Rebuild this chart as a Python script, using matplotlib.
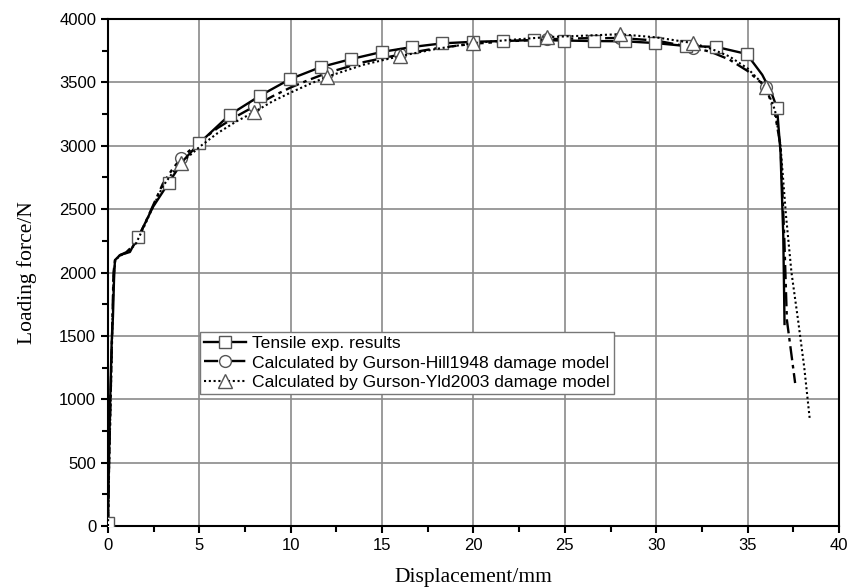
import numpy as np
import matplotlib
matplotlib.use("Agg")
import matplotlib.pyplot as plt
from matplotlib.ticker import MultipleLocator

# Tensile test (experiment)
exp_disp = [0, 0.05, 0.12, 0.2, 0.27, 0.33, 0.38, 0.66, 1.2, 1.48, 1.66, 2.46, 3.33, 4.1,
            4.99, 6.65, 8.32, 9.98, 11.65, 13.31, 14.98, 16.64, 18.3, 19.97, 21.63, 23.3,
            24.96, 26.62, 28.29, 29.95, 31.62, 33.28, 34.95, 35.8, 36.3, 36.61, 36.8,
            36.95, 37.0, 37.02]
exp_force = [20, 500, 1000, 1450, 1650, 1950, 2098, 2138, 2162, 2240, 2280, 2517, 2710, 2880,
             3020, 3243, 3395, 3527, 3621, 3684, 3740, 3779, 3808, 3820, 3826, 3834,
             3830, 3826, 3824, 3810, 3787, 3780, 3724, 3560, 3420, 3298, 2950,
             2300, 1800, 1594]
exp_marks = [0, 1.66, 3.33, 4.99, 6.65, 8.32, 9.98, 11.65, 13.31, 14.98, 16.64, 18.3,
             19.97, 21.63, 23.3, 24.96, 26.62, 28.29, 29.95, 31.62, 33.28, 34.95, 36.61]

# Gurson-Hill1948 simulation
hill_disp = [0, 0.06, 0.14, 0.22, 0.3, 0.4, 0.7, 1.0, 1.5, 2.0, 2.5, 3.0, 3.5, 4, 5, 6, 7,
             8, 9, 10, 11, 12, 14, 16, 18, 20, 22, 24, 26, 28, 30, 32, 33, 34, 35, 36,
             36.5, 36.8, 37.0, 37.15, 37.4, 37.6]
hill_force = [0, 500, 1000, 1500, 2000, 2110, 2140, 2160, 2230, 2380, 2540, 2700, 2810, 2903,
              3030, 3140, 3230, 3310, 3390, 3460, 3520, 3575, 3660, 3720, 3770, 3805, 3825,
              3840, 3848, 3850, 3830, 3775, 3740, 3680, 3590, 3465, 3250, 3000, 2300,
              1625, 1350, 1128]

# Gurson-Yld2003 simulation
yld_disp = [0, 0.06, 0.14, 0.22, 0.3, 0.4, 0.7, 1.0, 1.5, 2.0, 2.5, 3.0, 3.5, 4, 5, 6, 7,
            8, 9, 10, 11, 12, 14, 16, 18, 20, 22, 24, 26, 28, 30, 32, 33, 34, 35, 36,
            36.5, 36.8, 37.1, 37.4, 37.76, 38.1, 38.4]
yld_force = [0, 450, 950, 1450, 1950, 2100, 2135, 2155, 2220, 2370, 2530, 2680, 2780, 2864,
             2990, 3100, 3190, 3266, 3350, 3420, 3485, 3545, 3640, 3708, 3765, 3810, 3835,
             3857, 3868, 3880, 3855, 3810, 3765, 3705, 3610, 3463, 3280, 3000, 2450, 2000,
             1625, 1250, 844]

sim_marks = [4, 8, 12, 16, 20, 24, 28, 32, 36]


def mark_idx(xs, marks):
    xs = np.asarray(xs)
    return [int(np.argmin(np.abs(xs - m))) for m in marks]


plt.rcParams['font.family'] = ['Liberation Sans', 'DejaVu Sans']

fig = plt.figure(figsize=(8.62, 5.88), dpi=100)
ax = fig.add_axes([0.1253, 0.1054, 0.848, 0.8623])

mk = dict(markerfacecolor='white', markeredgecolor='#555555', markeredgewidth=1.0)

ax.plot(exp_disp, exp_force, color='black', lw=1.7, linestyle='-',
        marker='s', markersize=8, markevery=mark_idx(exp_disp, exp_marks),
        label='Tensile exp. results', zorder=4, **mk)
ax.plot(hill_disp, hill_force, color='black', lw=1.7, linestyle=(0, (6, 2, 1.5, 2)),
        marker='o', markersize=8.5, markevery=mark_idx(hill_disp, sim_marks),
        label='Calculated by Gurson-Hill1948 damage model', zorder=3, **mk)
ax.plot(yld_disp, yld_force, color='black', lw=1.5, linestyle=(0, (1, 1.3)),
        marker='^', markersize=10, markevery=mark_idx(yld_disp, sim_marks),
        label='Calculated by Gurson-Yld2003 damage model', zorder=5, **mk)

ax.set_xlim(0, 40)
ax.set_ylim(0, 4000)
ax.xaxis.set_major_locator(MultipleLocator(5))
ax.xaxis.set_minor_locator(MultipleLocator(2.5))
ax.yaxis.set_major_locator(MultipleLocator(500))
ax.yaxis.set_minor_locator(MultipleLocator(250))
ax.tick_params(which='both', direction='out', top=False, right=False, labelsize=12,
               width=1.5)
ax.tick_params(which='major', length=5)
ax.tick_params(which='minor', length=4)
ax.grid(True, which='major', color='#8a8a8a', lw=1.2)
ax.set_axisbelow(True)
for s in ax.spines.values():
    s.set_linewidth(1.5)

ax.set_xlabel('Displacement/mm', family='Liberation Serif', fontsize=15.5, labelpad=11)
ax.set_ylabel('Loading force/N', family='Liberation Serif', fontsize=15.5, labelpad=16)

leg = ax.legend(loc='upper left', bbox_to_anchor=(0.126, 0.383), borderaxespad=0,
                fontsize=12.6, handlelength=2.4, handletextpad=0.3, labelspacing=0.22,
                borderpad=0.25, fancybox=False, framealpha=1, edgecolor='#777777')
leg.get_frame().set_linewidth(1.0)

fig.savefig('out.png', dpi=100)
